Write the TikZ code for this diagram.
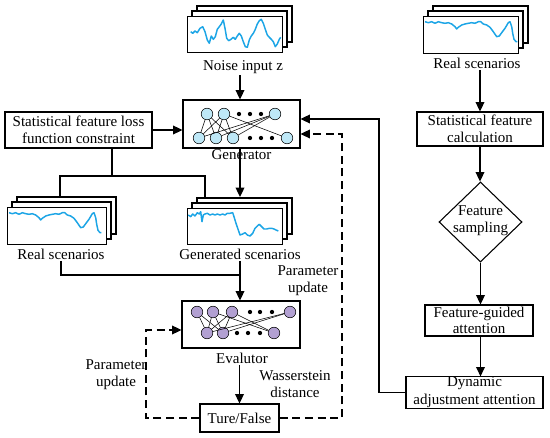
\documentclass[tikz,border=0pt]{standalone}
\usepackage{fontspec}
\setmainfont{Liberation Serif}
\usetikzlibrary{arrows.meta,shapes.geometric}
\definecolor{wavec}{RGB}{28,165,230}
\definecolor{gfill}{RGB}{190,232,247}
\definecolor{efill}{RGB}{178,160,210}
\newcommand\wavestack[5]{%
  \draw[line width=0.8pt, fill=white] (#2+10,#3-10) rectangle ++(#4,#5);
  \draw[line width=0.8pt, fill=white] (#2+5,#3-5) rectangle ++(#4,#5);
  \node[draw, line width=0.8pt, fill=white, minimum width=#4*0.75pt, minimum height=#5*0.75pt, anchor=north west, inner sep=0pt] (#1) at (#2,#3) {};
}
\begin{document}
\begin{tikzpicture}[x=0.75pt,y=-0.75pt,
  font=\fontsize{11.25}{12.5}\selectfont,
  box/.style={draw, line width=0.8pt, fill=white, inner sep=0pt, align=center},
  conn/.style={line width=0.95pt},
  arr/.style={conn, -{Triangle[length=7pt,width=6.5pt]}},
  dsh/.style={dash pattern=on 6pt off 3.5pt},
  wv/.style={color=wavec, line width=1.1pt, line join=round},
  lbl/.style={inner sep=1pt, align=center},
  gn/.style={circle, draw, line width=0.4pt, fill=gfill, minimum size=8.7pt, inner sep=0pt},
  en/.style={circle, draw, line width=0.4pt, fill=efill, minimum size=8.7pt, inner sep=0pt},
  dotn/.style={circle, fill=black, minimum size=3.2pt, inner sep=0pt},
  nl/.style={line width=0.4pt}
]
\useasboundingbox (0,0) rectangle (550,438);

% ---------- stacks ----------
\wavestack{noise}{187}{16}{95}{36}
\draw[wv] plot coordinates {(190.7,31.7) (192.7,33.3) (195,31) (197.3,32.7) (200,28.3) (202.7,26.7) (205,31.7) (207.3,40) (209.3,43.3) (211.3,36) (213.3,39.3) (215.3,36.7) (217.3,29.3) (219.3,26.7) (221.3,24) (223.3,20) (225,28.3) (226.7,38.3) (228.7,40.7) (231,39.3) (233.3,37.3) (235.3,39.3) (237.3,36) (239.3,33.3) (241.3,36) (243.3,41.7) (245.3,46.7) (247.3,47.3) (249.3,40) (251.3,36) (253.3,33.3) (255.3,29.3) (257.3,24) (259.3,20.7) (261.3,19.3) (263.3,23.3) (265.3,29.3) (267.3,35) (269.3,37.3) (271.3,39.3) (273.3,41.7) (275.3,46.7) (277.3,44) (279.3,39.3) (280.7,37.3)};

\wavestack{rreal}{423}{16}{95}{37}
\draw[wv] plot coordinates {(425,21.7) (428.3,22.7) (431.7,21.7) (435,23.3) (438.3,21.7) (441.7,22.7) (445,23.3) (448.3,22.7) (451.7,24) (455,26.7) (456.7,29) (458.3,27.3) (461.7,25) (465,24) (468.3,23.3) (471.7,22.7) (475,23.3) (478.3,21.7) (480.7,21.7) (483.3,24) (486.7,25) (490,27.3) (493.3,31.7) (496.7,36.7) (499.3,36) (501.7,32.7) (505,28.3) (508.3,22.7) (510,21.7) (511.7,26.7) (512.7,33.3) (514,39.3) (516,41.7) (517.3,41.7)};

\wavestack{lreal}{7}{207}{99}{37}
\draw[wv, shift={(-416,191)}] plot coordinates {(425,21.7) (428.3,22.7) (431.7,21.7) (435,23.3) (438.3,21.7) (441.7,22.7) (445,23.3) (448.3,22.7) (451.7,24) (455,26.7) (456.7,29) (458.3,27.3) (461.7,25) (465,24) (468.3,23.3) (471.7,22.7) (475,23.3) (478.3,21.7) (480.7,21.7) (483.3,24) (486.7,25) (490,27.3) (493.3,31.7) (496.7,36.7) (499.3,36) (501.7,32.7) (505,28.3) (508.3,22.7) (510,21.7) (511.7,26.7) (512.7,33.3) (514,39.3) (516,41.7) (517.3,41.7)};

\wavestack{gens}{187}{208}{95}{36}
\draw[wv] plot coordinates {(188.3,215) (190.7,216.7) (192.7,214) (195,216) (197.3,212.7) (199.3,214) (200.7,211.7) (202,221.7) (203.3,215) (205,214) (207.3,213.3) (210,215) (212.7,214) (215,215) (217.3,214) (220,215) (222.7,214) (225,215) (227.3,213.3) (230,213.3) (232.7,212.7) (234,216.7) (236,223.3) (238.3,230) (240,235) (242.7,234) (245,232.7) (247.3,235) (250,236) (252.7,233.3) (255,228.3) (257.3,226) (259.3,224.3) (261.7,226.7) (264,229) (266.7,229) (269.3,228.3) (271.7,228.3) (274,229) (276,230) (278.3,231)};

% ---------- boxes ----------
\node[box, minimum width=117*0.75pt, minimum height=48*0.75pt] (gen) at (241.5,124) {};
\node[box, minimum width=118*0.75pt, minimum height=47*0.75pt] (ev) at (241,324.5) {};
\node[box, minimum width=147*0.75pt, minimum height=36*0.75pt, font=\fontsize{11.25}{13}\selectfont] (sfl) at (78.5,130) {Statistical feature loss\\function constraint};
\node[box, minimum width=79*0.75pt, minimum height=28*0.75pt] (tf) at (239.5,418) {Ture/False};
\node[box, minimum width=126*0.75pt, minimum height=34*0.75pt] (sfc) at (480,129) {Statistical feature\\calculation};
\node[draw, line width=0.8pt, diamond, minimum width=83*0.75pt, minimum height=80*0.75pt, inner sep=0pt] (dia) at (480.5,222) {};
\node[lbl] (dial) at (480.5,221) {Feature\\sampling};
\node[box, minimum width=108*0.75pt, minimum height=31*0.75pt] (fga) at (479,320.5) {Feature-guided\\attention};
\node[box, minimum width=137*0.75pt, minimum height=31*0.75pt, font=\fontsize{11.25}{13.5}\selectfont] (dyn) at (474.5,392.5) {Dynamic\\adjustment attention};

% ---------- labels ----------
\node[lbl] (nzl) at (243,67) {Noise input z};
\node[lbl] (genl) at (241.5,155) {Generator};
\node[lbl] (rl) at (61,254) {Real scenarios};
\node[lbl] (gsl) at (240,254) {Generated scenarios};
\node[lbl] (evl) at (242,358) {Evalutor};
\node[lbl] (rrl) at (477,63) {Real scenarios};
\node[lbl] (pu1) at (308,280.5) {Parameter\\update};
\node[lbl] (pu2) at (116,375) {Parameter\\update};
\node[lbl] (wd) at (295,384) {Wasserstein\\distance};

% ---------- generator network ----------
\node[gn] (g1) at (207,114) {};
\node[gn] (g2) at (224,114) {};
\node[gn] (g3) at (275,114) {};
\node[gn] (h1) at (199,138) {};
\node[gn] (h2) at (216,138) {};
\node[gn] (h3) at (233,138) {};
\node[gn] (h4) at (287,138) {};
\foreach \a/\b in {g1/h1,g1/h2,g1/h3,g2/h1,g2/h2,g2/h3,g2/h4,g3/h1,g3/h2,g3/h3}
  \draw[nl] (\a) -- (\b);
\node[dotn] (gd1) at (239,114) {};
\node[dotn] (gd2) at (250,114) {};
\node[dotn] (gd3) at (261,114) {};
\node[dotn] (hd1) at (250,138) {};
\node[dotn] (hd2) at (261,138) {};
\node[dotn] (hd3) at (272,138) {};

% ---------- evaluator network ----------
\node[en] (e1) at (197,312) {};
\node[en] (e2) at (213,312) {};
\node[en] (e3) at (232,312) {};
\node[en] (e4) at (290,312) {};
\node[en] (f1) at (207,333) {};
\node[en] (f2) at (223,333) {};
\node[en] (f3) at (274,333) {};
\foreach \a/\b in {e1/f1,e1/f2,e2/f1,e2/f2,e2/f3,e3/f1,e3/f2,e3/f3,e4/f1,e4/f2}
  \draw[nl] (\a) -- (\b);
\node[dotn] (ed1) at (250,312) {};
\node[dotn] (ed2) at (260,312) {};
\node[dotn] (ed3) at (272,312) {};
\node[dotn] (fd1) at (237,333) {};
\node[dotn] (fd2) at (248,333) {};
\node[dotn] (fd3) at (260,333) {};

% ---------- connectors ----------
\coordinate (jn) at (112,176);
\coordinate (rlin) at (60,197);
\coordinate (gsin) at (205,197);
\coordinate (gsarr) at (240,197);
\coordinate (mj) at (240,275);
\coordinate (dl) at (146,330);
\coordinate (dr) at (342,134);
\coordinate (sr) at (379,119);

\draw[arr] (nzl.south -| gsarr) -- (gsarr |- gen.north);
\draw[arr] (sfl.east) -- (sfl.east -| gen.west);
\draw[conn] (sfl.south -| jn) -- (jn);
\draw[conn] (rlin) |- (jn) -| (gsin);
\draw[arr] (gsarr |- gen.south) -- (gsarr);
\draw[conn] (rl.south) |- (mj);
\draw[arr] (gsl.south) -- (gsl.south |- ev.north);
\draw[arr] (evl.south -| tf.north) -- (tf.north);
\draw[arr, dsh] (tf.west) -| (dl) -- (dl -| ev.west);
\draw[arr, dsh] (tf.east) -| (dr) -- (dr -| gen.east);
\draw[arr] (dyn.west) -| (sr) -- (sr -| gen.east);

\draw[arr] (rrl.south -| sfc.north) -- (sfc.north);
\draw[arr] (sfc.south) -- (sfc.south |- dia.north);
\draw[arr] (dia.south) -- (dia.south |- fga.north);
\draw[arr] (fga.south -| dia.south) -- (dia.south |- dyn.north);
\end{tikzpicture}
\end{document}
